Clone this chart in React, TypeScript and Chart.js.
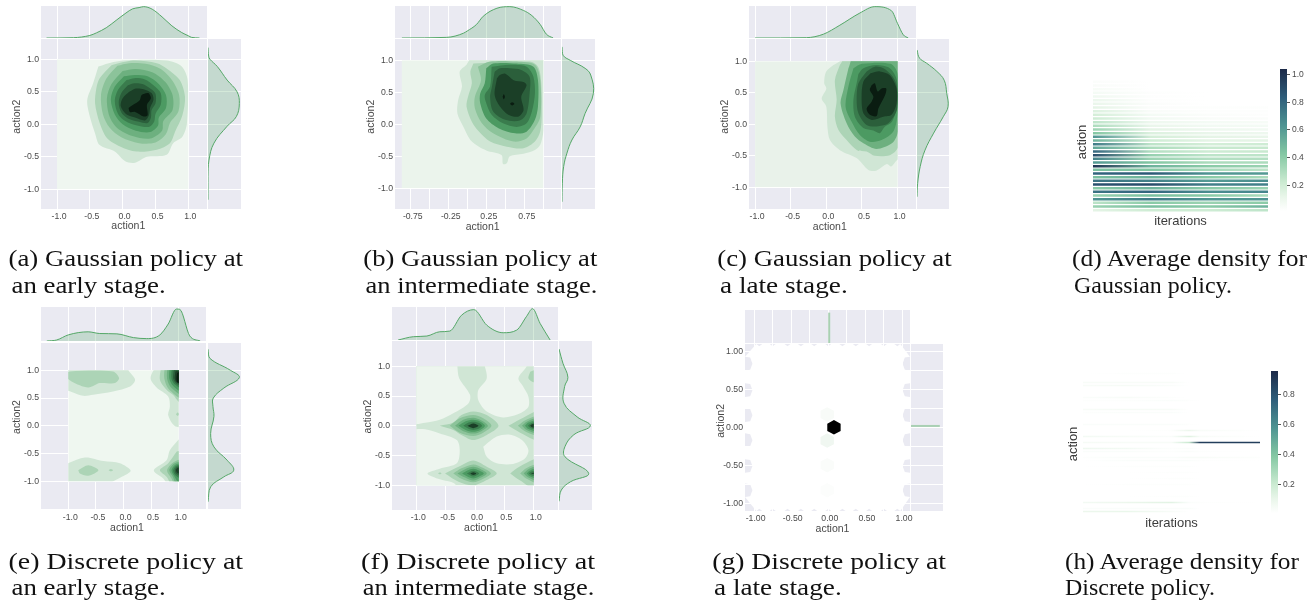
import React, { useEffect, useRef } from "react";
import { Chart, registerables } from "chart.js";

Chart.register(...registerables);

const FONT = "'Liberation Sans', Arial, sans-serif";
const BG = "#EAEAF2";
const LEVEL_COLORS = ["#D0E6D5", "#ACD4B6", "#8CC39A", "#6DB07F", "#4C9A62", "#3A7C4D", "#2B5F3B", "#1B3F27", "#0A1C11"];

// ---------- contour rings: flat x,y lists ----------
const a1 = [-0.37,0.89,-0.45,0.63,-0.54,0.37,-0.50,0.12,-0.42,-0.14,-0.35,-0.32,-0.12,-0.42,0.04,-0.57,0.19,-0.59,0.37,-0.50,0.67,-0.47,0.77,-0.29,0.91,-0.19,0.98,0.02,0.99,0.68,0.90,0.89,0.67,0.98,0.16,0.99,-0.14,0.96];
const a2 = [-0.17,0.91,-0.35,0.71,-0.40,0.56,-0.42,0.32,-0.35,0.02,-0.24,-0.21,-0.04,-0.34,0.21,-0.42,0.52,-0.39,0.72,-0.29,0.80,-0.11,0.91,0.14,0.95,0.42,0.87,0.68,0.67,0.86,0.52,0.94,0.16,0.98];
const a3 = [-0.08,0.90,-0.25,0.70,-0.33,0.45,-0.30,0.15,-0.20,-0.05,-0.02,-0.20,0.25,-0.29,0.50,-0.28,0.66,-0.15,0.72,0.02,0.85,0.20,0.86,0.45,0.75,0.68,0.58,0.85,0.35,0.93,0.10,0.94];
const a4 = [0.0,0.82,-0.17,0.62,-0.24,0.40,-0.20,0.12,-0.08,-0.06,0.15,-0.18,0.42,-0.22,0.60,-0.10,0.62,0.05,0.76,0.22,0.76,0.45,0.65,0.65,0.45,0.80,0.2,0.85];
const a5 = [0.02,0.74,-0.12,0.58,-0.18,0.38,-0.12,0.15,0.0,0.0,0.2,-0.1,0.42,-0.12,0.54,-0.02,0.55,0.1,0.66,0.25,0.66,0.45,0.55,0.62,0.38,0.74,0.18,0.76];
const a6 = [0.06,0.68,-0.07,0.53,-0.12,0.36,-0.07,0.16,0.04,0.05,0.22,-0.02,0.40,-0.04,0.48,0.04,0.50,0.16,0.58,0.30,0.58,0.48,0.47,0.60,0.34,0.69,0.18,0.71];
const a7 = [0.08,0.6,-0.02,0.48,-0.06,0.33,-0.02,0.18,0.08,0.09,0.25,0.04,0.38,0.02,0.43,0.10,0.44,0.22,0.50,0.32,0.50,0.47,0.42,0.55,0.30,0.62,0.18,0.63];
const a8 = [0.10,0.50,0.0,0.40,-0.03,0.28,0.05,0.16,0.2,0.1,0.34,0.06,0.4,0.14,0.42,0.26,0.47,0.38,0.44,0.48,0.32,0.54,0.2,0.55];
const a9 = [0.09,0.25,0.16,0.30,0.26,0.37,0.29,0.45,0.39,0.48,0.43,0.40,0.37,0.30,0.38,0.14,0.32,0.12,0.19,0.19,0.11,0.19];
const contourA = [[0,a1],[1,a2],[2,a3],[3,a4],[4,a5],[5,a6],[6,a7],[7,a8],[8,a9]];

const b1 = [-0.01,0.93,-0.10,0.82,-0.07,0.59,-0.12,0.38,-0.13,0.17,-0.05,-0.04,0.06,-0.27,0.25,-0.41,0.45,-0.48,0.47,-0.62,0.52,-0.61,0.56,-0.50,0.74,-0.46,0.89,-0.40,0.96,-0.32,1.0,-0.14,1.1,0.4,1.1,1.1,0.1,1.1];
const b2 = [0.08,0.95,0.04,0.82,0.06,0.64,0.01,0.43,-0.01,0.28,0.06,0.04,0.15,-0.11,0.30,-0.27,0.52,-0.35,0.74,-0.375,0.89,-0.27,0.96,-0.11,0.98,0.17,0.97,0.69,0.93,0.90,0.82,0.98];
const b3 = [0.14,0.90,0.18,0.69,0.10,0.43,0.10,0.25,0.19,0.02,0.34,-0.14,0.61,-0.27,0.78,-0.22,0.87,-0.09,0.96,0.12,0.96,0.69,0.89,0.93,0.65,0.98,0.30,0.98];
const b4 = [0.25,0.875,0.23,0.64,0.17,0.48,0.17,0.33,0.25,0.09,0.41,-0.06,0.63,-0.14,0.78,-0.115,0.89,0.07,0.93,0.28,0.93,0.69,0.87,0.90,0.65,0.95,0.34,0.95];
const b5 = [0.32,0.90,0.30,0.59,0.23,0.46,0.25,0.33,0.32,0.15,0.47,0.016,0.65,-0.04,0.78,0.016,0.85,0.20,0.89,0.48,0.87,0.745,0.78,0.90,0.56,0.93];
const b6 = [0.36,0.82,0.32,0.56,0.30,0.43,0.34,0.20,0.50,0.07,0.69,0.06,0.78,0.17,0.82,0.48,0.82,0.745,0.71,0.85,0.56,0.875,0.43,0.875];
const b7 = [0.39,0.72,0.36,0.46,0.43,0.28,0.54,0.15,0.67,0.12,0.74,0.22,0.71,0.43,0.78,0.61,0.74,0.66,0.61,0.69,0.50,0.79,0.43,0.77];
const b8 = [0.465,0.43,0.48,0.47,0.495,0.43,0.48,0.39];
const b9 = [0.56,0.32,0.59,0.345,0.62,0.32,0.59,0.295];
const contourB = [[0,b1],[1,b2],[2,b3],[4,b4],[5,b5],[6,b6],[7,b7],[8,b8],[8,b9]];

const c1 = [0.10,0.94,-0.005,0.83,-0.03,0.65,0,0.57,-0.065,0.41,0,0.28,0.015,-0.04,0.05,-0.25,0.19,-0.41,0.43,-0.54,0.59,-0.725,0.70,-0.735,0.85,-0.63,0.91,-0.67,0.99,-0.57,1.1,-0.5,1.1,1.1,0.3,1.1,0.19,1.0];
const c2 = [0.19,0.94,0.12,0.70,0.145,0.39,0.12,0.12,0.17,-0.09,0.285,-0.25,0.43,-0.41,0.565,-0.43,0.68,-0.50,0.89,-0.49,1.0,-0.38,1.1,0,1.1,1.1,0.3,1.1];
const c3 = [0.31,0.89,0.24,0.545,0.20,0.33,0.285,0.016,0.40,-0.195,0.52,-0.30,0.705,-0.39,0.92,-0.30,1.0,-0.14,1.1,0.5,1.1,1.1,0.4,1.1];
const c4 = [0.38,0.89,0.31,0.60,0.27,0.28,0.355,0.04,0.47,-0.17,0.61,-0.275,0.775,-0.25,0.94,-0.115,1.0,0.175,1.0,0.8,0.9,0.96,0.5,0.96];
const c5 = [0.45,0.80,0.425,0.65,0.38,0.39,0.40,0.12,0.52,-0.06,0.66,-0.10,0.75,-0.14,0.82,-0.04,0.92,0.04,0.99,0.28,0.99,0.70,0.89,0.89,0.70,0.94,0.52,0.89];
const c6 = [0.565,0.84,0.45,0.65,0.425,0.39,0.45,0.175,0.565,-0.01,0.73,-0.03,0.87,0.016,0.99,0.23,0.99,0.60,0.93,0.76,0.80,0.89,0.68,0.915];
const c7 = [0.62,0.81,0.52,0.68,0.495,0.44,0.52,0.175,0.635,0.07,0.80,0.12,0.915,0.15,0.985,0.33,0.985,0.57,0.89,0.78,0.75,0.84];
const c8 = [0.635,0.62,0.68,0.65,0.72,0.52,0.775,0.57,0.84,0.57,0.825,0.465,0.73,0.25,0.705,0.13,0.61,0.15,0.565,0.25,0.635,0.36,0.66,0.44,0.61,0.545];
const contourC = [[0,c1],[1,c2],[3,c3],[4,c4],[5,c5],[6,c6],[7,c7],[8,c8]];

const e1a = [-1.1,1.1,0.09,1.1,0.09,1.0,0.21,0.83,0.12,0.71,-0.19,0.62,-0.55,0.56,-0.73,0.54,-0.94,0.61,-1.1,0.69];
const e1b = [0.60,1.1,0.49,0.86,0.60,0.69,0.81,0.53,0.84,0.35,0.81,0.19,0.93,-0.003,1.1,0,1.1,1.1];
const e1c = [1.0,-0.245,0.84,-0.44,0.78,-0.62,0.55,-0.80,0.72,-0.95,0.84,-1.1,1.1,-1.1,1.1,-0.245];
const e1d = [-1.1,-0.71,-0.70,-0.57,-0.365,-0.635,-0.065,-0.675,0.13,-0.81,-0.03,-0.92,-0.43,-1.1,-0.91,-1.1,-1.1,-0.98];
const e2a = [-1.1,0.92,-0.94,0.80,-0.64,0.69,-0.43,0.77,-0.155,0.77,-0.08,0.86,-0.19,0.98,-0.97,0.98];
const e2b = [-0.82,-0.80,-0.64,-0.71,-0.455,-0.80,-0.64,-0.90,-0.79,-0.86];
const e2c = [-0.27,-0.80,-0.23,-0.78,-0.19,-0.80,-0.23,-0.82];
const e2d = [0.69,1.1,0.66,0.83,0.78,0.65,0.90,0.555,1.0,0.435,1.1,0.4,1.1,1.1];
const e2e = [0.965,-0.465,0.81,-0.675,0.66,-0.80,0.78,-0.92,0.90,-1.1,1.1,-1.1,1.1,-0.45];
const e2f = [0.95,0.21,0.98,0.24,1.01,0.21,0.98,0.18];
const e3t = [0.75,1.1,0.74,0.85,0.83,0.65,1.1,0.48,1.1,1.1];
const e4t = [0.80,1.1,0.79,0.85,0.87,0.68,1.1,0.55,1.1,1.1];
const e5t = [0.84,1.1,0.83,0.85,0.91,0.71,1.1,0.60,1.1,1.1];
const e6t = [0.88,1.1,0.87,0.85,0.94,0.74,1.1,0.66,1.1,1.1];
const e7t = [0.91,1.0,0.90,0.85,0.96,0.76,1.1,0.70,1.1,1.1];
const e8t = [0.94,0.98,0.93,0.85,0.97,0.78,1.1,0.74,1.1,1.0];
const e9t = [0.97,0.95,0.96,0.85,0.98,0.78,1.1,0.76,1.1,1.0];
const e3b = [1.1,-0.58,0.90,-0.66,0.79,-0.80,0.87,-0.95,0.95,-1.1,1.1,-1.1];
const e4b = [1.1,-0.62,0.92,-0.68,0.83,-0.80,0.90,-0.93,0.97,-1.1,1.1,-1.1];
const e5b = [1.1,-0.66,0.94,-0.70,0.87,-0.80,0.92,-0.91,0.98,-1.0,1.1,-1.1];
const e6b = [1.1,-0.69,0.96,-0.72,0.90,-0.80,0.94,-0.89,1.1,-0.97];
const e7b = [1.1,-0.71,0.97,-0.74,0.93,-0.80,0.96,-0.87,1.1,-0.93];
const e8b = [1.1,-0.73,0.98,-0.76,0.95,-0.80,0.98,-0.85,1.1,-0.89];
const contourE = [[0,e1a],[0,e1b],[0,e1c],[0,e1d],[1,e2a],[1,e2b],[1,e2c],[1,e2d],[1,e2e],[1,e2f],[2,e3t],[3,e4t],[4,e5t],[5,e6t],[6,e7t],[7,e8t],[8,e9t],[2,e3b],[3,e4b],[4,e5b],[5,e6b],[6,e7b],[7,e8b]];

// level -1 means "back to the outermost colour": the empty pockets of panel f
const f0 = [-1.1,-1.1,1.1,-1.1,1.1,1.1,-1.1,1.1];
const fHoleA = [-1.1,1.1,-0.30,1.1,-0.30,1.0,-0.27,0.80,-0.085,0.52,-0.11,0.38,-0.37,0.21,-0.60,0.10,-0.85,0.053,-1.1,0.055];
const fHoleB = [0.14,1.1,0.20,0.80,0.057,0.60,0.057,0.43,0.20,0.24,0.48,0.14,0.77,0.21,0.91,0.32,0.91,0.49,0.82,0.66,0.74,0.80,0.88,1.0,0.88,1.1];
const fHoleC = [-1.1,-0.06,-0.85,-0.06,-0.60,-0.13,-0.31,-0.24,-0.26,-0.41,-0.31,-0.63,-0.60,-0.72,-0.81,-0.80,-0.60,-0.90,-0.35,-0.97,-0.30,-1.1,-1.1,-1.1];
const fHoleD = [0.14,-0.35,0.37,-0.18,0.60,-0.15,0.80,-0.24,0.91,-0.41,0.85,-0.55,0.65,-0.64,0.37,-0.63,0.20,-0.52];
const fBlob = [0.94,0.91,0.91,0.80,1.0,0.73,1.1,0.73,1.1,0.95];
const fDot = [-0.63,-0.80,-0.60,-0.785,-0.57,-0.80,-0.60,-0.815];
const fMid2 = [-0.60,0,-0.37,0.055,-0.23,0.18,-0.03,0.24,0.2,0.18,0.40,0,0.2,-0.155,-0.03,-0.24,-0.23,-0.155,-0.37,-0.07];
const fMid3 = [-0.43,0,-0.26,0.125,-0.03,0.18,0.14,0.125,0.28,0,0.14,-0.115,-0.03,-0.17,-0.26,-0.115];
const fMid4 = [-0.34,0,-0.2,0.10,-0.03,0.135,0.11,0.09,0.22,0,0.11,-0.09,-0.03,-0.13,-0.2,-0.09];
const fMid5 = [-0.28,0,-0.16,0.075,-0.03,0.10,0.09,0.07,0.17,0,0.09,-0.07,-0.03,-0.10,-0.16,-0.07];
const fMid6 = [-0.2,0,-0.11,0.055,-0.03,0.07,0.06,0.05,0.12,0,0.06,-0.05,-0.03,-0.07,-0.11,-0.05];
const fMid7 = [-0.13,0,-0.03,0.04,0.06,0,-0.03,-0.04];
const fRight2 = [0.57,0,0.77,0.11,1.1,0.24,1.1,-0.24,0.77,-0.115];
const fRight3 = [0.73,0,0.85,0.09,1.1,0.16,1.1,-0.16,0.85,-0.09];
const fRight4 = [0.80,0,0.88,0.07,1.1,0.13,1.1,-0.13,0.88,-0.07];
const fRight5 = [0.85,0,0.91,0.055,1.1,0.10,1.1,-0.10,0.91,-0.055];
const fRight6 = [0.90,0,0.95,0.04,1.1,0.07,1.1,-0.07,0.95,-0.04];
const fRight7 = [0.94,0,0.97,0.025,1.1,0.04,1.1,-0.04,0.97,-0.025];
const fLow2 = [-0.51,-0.80,-0.28,-0.69,-0.03,-0.585,0.2,-0.69,0.37,-0.80,0.2,-0.91,-0.03,-1.0,-0.28,-0.94];
const fLow3 = [-0.37,-0.80,-0.23,-0.715,-0.03,-0.65,0.14,-0.71,0.27,-0.80,0.14,-0.89,-0.03,-0.95,-0.23,-0.89];
const fLow4 = [-0.3,-0.80,-0.17,-0.73,-0.03,-0.69,0.1,-0.73,0.2,-0.80,0.1,-0.87,-0.03,-0.92,-0.17,-0.87];
const fLow5 = [-0.22,-0.8,-0.13,-0.75,-0.03,-0.72,0.07,-0.75,0.15,-0.8,0.07,-0.85,-0.03,-0.885,-0.13,-0.85];
const fLow6 = [-0.14,-0.8,-0.03,-0.755,0.07,-0.8,-0.03,-0.85];
const fLow7 = [-0.08,-0.8,-0.03,-0.78,0.02,-0.8,-0.03,-0.825];
const fCorner2 = [0.60,-0.8,0.77,-0.68,1.1,-0.56,1.1,-1.1,0.77,-0.92];
const fCorner3 = [0.77,-0.8,0.88,-0.71,1.1,-0.65,1.1,-0.97,0.88,-0.89];
const fCorner4 = [0.83,-0.8,0.91,-0.73,1.1,-0.68,1.1,-0.93,0.91,-0.87];
const fCorner5 = [0.88,-0.8,0.94,-0.75,1.1,-0.71,1.1,-0.89,0.94,-0.85];
const fCorner6 = [0.92,-0.8,0.96,-0.77,1.1,-0.74,1.1,-0.86,0.96,-0.83];
const fCorner7 = [0.95,-0.8,1.1,-0.77,1.1,-0.83];
const contourF = [[0,f0,0],[-1,fHoleA],[-1,fHoleB],[-1,fHoleC],[-1,fHoleD],[1,fBlob],[1,fDot],[1,fMid2],[2,fMid3],[3,fMid4],[4,fMid5],[5,fMid6],[7,fMid7],[1,fRight2],[2,fRight3],[3,fRight4],[4,fRight5],[5,fRight6],[7,fRight7],[1,fLow2],[2,fLow3],[3,fLow4],[4,fLow5],[5,fLow6],[7,fLow7],[1,fCorner2],[2,fCorner3],[3,fCorner4],[4,fCorner5],[5,fCorner6],[7,fCorner7]];

// ---------- marginal densities: position, height pairs ----------
const topA = [[-1.16,0],[-0.75,0.01],[-0.5,0.08],[-0.4,0.16],[-0.25,0.32],[-0.1,0.55],[0.05,0.78],[0.15,0.91],[0.25,0.95],[0.32,0.98],[0.45,0.90],[0.6,0.66],[0.75,0.38],[0.9,0.17],[1.0,0.07],[1.05,0.02],[1.17,0]];
const sideA = [[1.18,0],[1.05,0.02],[1.0,0.06],[0.89,0.28],[0.68,0.58],[0.5,0.88],[0.32,0.95],[0.12,0.86],[-0.03,0.58],[-0.29,0.18],[-0.55,0.03],[-0.8,0],[-1.16,0]];
const topB = [[-0.86,0],[-0.27,0.02],[-0.05,0.15],[0.0,0.22],[0.12,0.42],[0.21,0.68],[0.39,0.93],[0.56,0.98],[0.74,0.86],[0.85,0.7],[0.96,0.42],[1.04,0.12],[1.13,0]];
const sideB = [[1.21,0],[1.08,0.03],[1.0,0.25],[0.875,0.70],[0.77,0.87],[0.48,0.95],[0.17,0.70],[-0.04,0.55],[-0.245,0.30],[-0.45,0.15],[-0.66,0.05],[-0.92,0.01],[-1.21,0]];
const topC = [[-1,0],[-0.28,0.01],[-0.04,0.12],[0.19,0.40],[0.47,0.78],[0.68,0.98],[0.915,0.85],[1.0,0.45],[1.08,0.1],[1.15,0]];
const sideC = [[1.18,0],[1.05,0.08],[0.97,0.30],[0.84,0.62],[0.70,0.85],[0.49,0.93],[0.28,0.97],[0.12,0.82],[-0.14,0.52],[-0.41,0.25],[-0.67,0.10],[-0.94,0.02],[-1.15,0]];
const topE = [[-1.39,0],[-1.21,0.03],[-1.0,0.18],[-0.64,0.27],[-0.43,0.22],[-0.12,0.21],[0.18,0.10],[0.42,0.07],[0.66,0.18],[0.81,0.50],[0.96,0.94],[1.02,0.93],[1.2,0.15],[1.39,0]];
const sideE = [[1.38,0],[1.22,0.05],[1.0,0.68],[0.87,0.95],[0.68,0.48],[0.50,0.16],[0.35,0.15],[0.17,0.18],[-0.14,0.08],[-0.38,0.18],[-0.62,0.58],[-0.80,0.78],[-0.92,0.48],[-1.10,0.08],[-1.37,0]];
const topF = [[-1.31,0],[-1.05,0.1],[-0.82,0.12],[-0.6,0.25],[-0.43,0.27],[-0.23,0.75],[-0.02,0.92],[0.2,0.45],[0.48,0.22],[0.71,0.3],[0.88,0.72],[0.98,0.95],[1.11,0.5],[1.28,0]];
const sideF = [[1.29,0],[1.05,0.12],[0.815,0.27],[0.66,0.17],[0.38,0.15],[0.15,0.55],[0,0.95],[-0.15,0.45],[-0.35,0.18],[-0.52,0.18],[-0.80,0.9],[-0.94,0.35],[-1.08,0.07],[-1.27,0]];
const topG = [[0.012,0],[0.012,0.92]];
const sideG = [[0.018,0],[0.018,0.9]];

// ---------- hexbin of panel g ----------
const hexX = [-0.015, -0.015, -0.015, -0.015, 0.076];
const hexY = [0.17, -0.175, -0.50, -0.83, 0];
const hexShade = ["#F8FBF8", "#F0F7F1", "#FAFCFA", "#FCFDFC", "#000000"];
const notchY = [0.84, 0.49, 0.16, -0.17, -0.51, -0.83];
const notchX = [-0.93, -0.75, -0.55, -0.37, -0.19, 0, 0.19, 0.37, 0.55, 0.75, 0.93];

// ---------- average-density heatmaps ----------
const heatStopsD = [0, 0.33, 0.66, 1];
const heatD = [
  [.02,0,0,0],[.03,0,0,0],[.04,0,0,0],[.05,.01,0,0],[.07,.01,0,0],[.09,.01,0,0],[.1,.02,0,0],[.12,.02,.01,.01],
  [.15,.03,.01,.01],[.18,.05,.02,.01],[.2,.06,.03,.02],[.25,.08,.05,.04],[.3,.1,.06,.05],[.35,.12,.08,.06],[.42,.15,.1,.08],[.62,.18,.12,.1],
  [.5,.2,.12,.12],[.72,.25,.18,.2],[.55,.3,.22,.22],[.8,.28,.2,.22],[.9,.36,.25,.25],[.7,.35,.28,.28],[.6,.42,.3,.3],
  [1,.5,.4,.35],[.45,.42,.32,.25],[.8,.85,.62,.6],[.45,.5,.4,.3],[.75,.7,.6,.65],[.88,.9,.7,.7],[.4,.5,.4,.35],[.75,.8,.65,.68],
  [.35,.45,.4,.3],[.62,.72,.62,.62],[.25,.4,.35,.4],[.35,.45,.4,.5],[.12,.2,.2,.25],
];
const heatStopsH = [0, 0.25, 0.5, 0.6, 0.66, 1];
const heatRowsH = [0,3,4,8,9,12,13,17,19,21,23,25,26,28,29,31,33,35,37,41,43,45,46];
const heatH = [
  [0,.01,.01,0,0,0],[.03,.03,.03,0,0,0],[.03,.04,.02,0,0,0],[.02,.03,.01,0,0,0],[.01,.01,.02,.01,0,0],[.03,.04,.03,0,0,0],[.01,.02,.02,0,0,0],[.02,.02,.02,.01,0,0],
  [0,0,.01,.08,.03,0],[.05,.03,.02,.13,.03,0],[.04,.03,.03,.2,.88,.88],[.07,.05,.01,.02,0,0],[.02,.02,.01,.02,.01,0],[.01,.02,.02,.03,.03,.01],[0,.02,.02,.02,.01,0],[0,.01,.01,.01,0,0],
  [0,0,.01,.01,0,0],[0,0,.01,.01,0,0],[0,.01,.01,.01,0,0],[0,0,.01,.01,0,0],[.05,.08,.12,.02,.01,0],[.02,.02,.02,.02,0,0],[.08,.09,.03,0,0,0],
];
const colorbarTicks = [0.2, 0.4, 0.6, 0.8, 1.0];
const cmapPos = [0, 0.1, 0.2, 0.4, 0.6, 0.8, 1];
const cmapCol = [[255,255,255],[233,246,234],[204,235,210],[132,200,163],[78,148,146],[46,93,122],[28,42,72]];

function cmap(t: number) {
  const v = Math.max(0, Math.min(1, t));
  let i = 0;
  while (i < cmapPos.length - 2 && v > cmapPos[i + 1]) i++;
  const f = (v - cmapPos[i]) / (cmapPos[i + 1] - cmapPos[i]);
  const c = cmapCol[i].map((a, k) => Math.round(a + (cmapCol[i + 1][k] - a) * f));
  return `rgb(${c[0]},${c[1]},${c[2]})`;
}

// ---------- captions ----------
const captions: [string, number, number, number][] = [
  ["(a) Gaussian policy at", 8.5, 243, 266], ["an early stage.", 11.5, 165.7, 293],
  ["(b) Gaussian policy at", 363.3, 597.3, 266], ["an intermediate stage.", 365.5, 597.3, 293],
  ["(c) Gaussian policy at", 717.3, 951.7, 266], ["a late stage.", 720, 847.7, 293],
  ["(d) Average density for", 1072, 1307, 266], ["Gaussian policy.", 1074, 1232, 293],
  ["(e) Discrete policy at", 8.5, 243, 568.5], ["an early stage.", 11.5, 165.7, 595],
  ["(f) Discrete policy at", 361, 595, 568.5], ["an intermediate stage.", 362.7, 594.3, 595],
  ["(g) Discrete policy at", 712.3, 946, 568.5], ["a late stage.", 714, 841.7, 595],
  ["(h) Average density for", 1065, 1299, 568.5], ["Discrete policy.", 1065, 1215, 595],
];

// ---------- helpers ----------
const toXY = (flat: number[]) => {
  const out: { x: number; y: number }[] = [];
  for (let i = 0; i < flat.length; i += 2) out.push({ x: flat[i], y: flat[i + 1] });
  out.push({ x: flat[0], y: flat[1] });
  return out;
};

function fixBox(size: number, shift = 0) {
  return (scale: any) => {
    if (scale.isHorizontal()) scale.height = size; else scale.width = size;
    scale.paddingTop = 0; scale.paddingBottom = 0; scale.paddingLeft = 0; scale.paddingRight = 0;
    if (shift && !scale.__shifted) {
      scale.__shifted = true;
      const orig = scale.drawTitle;
      scale.drawTitle = function () {
        const s = this, l = s.left, r = s.right, t = s.top, b = s.bottom;
        if (s.isHorizontal()) { s.left += shift; s.right += shift; } else { s.top += shift; s.bottom += shift; }
        orig.call(s);
        s.left = l; s.right = r; s.top = t; s.bottom = b;
      };
    }
  };
}

const bgPlugin = {
  id: "panelBg",
  beforeDraw(c: any) {
    const a = c.chartArea;
    c.ctx.save();
    c.ctx.fillStyle = BG;
    c.ctx.fillRect(a.left, a.top, a.right - a.left, a.bottom - a.top);
    c.ctx.restore();
  },
};

function squareClip(b: number[]) {
  return {
    id: "squareClip",
    beforeDatasetsDraw(c: any) {
      const x = c.scales.x, y = c.scales.y;
      const ctx = c.ctx;
      ctx.save();
      ctx.beginPath();
      const x0 = x.getPixelForValue(b[0]), x1 = x.getPixelForValue(1), y0 = y.getPixelForValue(1), y1 = y.getPixelForValue(-1);
      ctx.rect(x0, y0, x1 - x0, y1 - y0);
      ctx.clip();
    },
    afterDatasetsDraw(c: any) { c.ctx.restore(); },
  };
}

const baseOpts = {
  responsive: false,
  animation: false,
  devicePixelRatio: 1,
  events: [],
  layout: { autoPadding: false, padding: 0 },
  plugins: { legend: { display: false }, tooltip: { enabled: false } },
};

const poly = (flat: number[], color: string, tension = 0.3) => ({
  data: toXY(flat), showLine: true, fill: "shape", backgroundColor: color, borderWidth: 0, pointRadius: 0, tension,
});

type Panel = {
  l: number; r: number; t: number; b: number; side: number; upper: number;
  xr: number[]; yr: number[]; xStep: number; yStep: number; xDigits: number;
  xLabels: number[]; yLabels: number[]; labelOffset: number;
  xShift: number; yShift: number; xTitlePad: number;
};

const allow = (list: number[], digits: number) => (v: any) =>
  list.some((k) => Math.abs(k - Number(v)) < 1e-6) ? Number(v).toFixed(digits) : "";

const oneDec = [-1, -0.5, 0, 0.5, 1];
const panelA: Panel = { l: 41, r: 207, t: 39, b: 209, side: 241, upper: 6, xr: [-1.244, 1.285], yr: [-1.303, 1.312], xStep: 0.5, yStep: 0.5, xDigits: 1, xLabels: oneDec, yLabels: oneDec, labelOffset: 2, xShift: 4.3, yShift: -7.3, xTitlePad: 0.7 };
const panelB: Panel = { l: 395, r: 561, t: 39, b: 209, side: 595, upper: 6, xr: [-0.951, 1.233], yr: [-1.323, 1.333], xStep: 0.25, yStep: 0.5, xDigits: 2, xLabels: [-0.75, -0.25, 0.25, 0.75], yLabels: oneDec, labelOffset: 2.5, xShift: 4.7, yShift: -7.3, xTitlePad: 0 };
const panelC: Panel = { l: 749, r: 916, t: 39, b: 209, side: 949, upper: 6, xr: [-1.085, 1.258], yr: [-1.344, 1.354], xStep: 0.5, yStep: 0.5, xDigits: 1, xLabels: oneDec, yLabels: oneDec, labelOffset: 2, xShift: -2.7, yShift: -7.3, xTitlePad: 0 };
const panelE: Panel = { l: 41, r: 207, t: 342, b: 510, side: 241, upper: 307, xr: [-1.495, 1.513], yr: [-1.517, 1.51], xStep: 0.5, yStep: 0.5, xDigits: 1, xLabels: oneDec, yLabels: oneDec, labelOffset: 2, xShift: 3, yShift: -9, xTitlePad: 0 };
const panelF: Panel = { l: 392, r: 558, t: 341, b: 510, side: 592, upper: 307, xr: [-1.414, 1.414], yr: [-1.415, 1.425], xStep: 0.5, yStep: 0.5, xDigits: 1, xLabels: oneDec, yLabels: oneDec, labelOffset: 2, xShift: 6, yShift: -9, xTitlePad: 0 };
const panelG: Panel = { l: 745, r: 910, t: 344, b: 511, side: 943, upper: 310, xr: [-1.123, 1.101], yr: [-1.104, 1.099], xStep: 0.25, yStep: 0.25, xDigits: 2, xLabels: oneDec, yLabels: oneDec, labelOffset: 1.5, xShift: 5, yShift: -6.6, xTitlePad: 0 };

const AXIS_W = 30, AXIS_H = 24, RIGHT_ROOM = 10;

function linearAxis(min: number, max: number, step: number) {
  return {
    type: "linear", min, max,
    grid: { color: "#FFFFFF", lineWidth: 1, drawTicks: false },
    border: { display: false },
    ticks: { stepSize: step, includeBounds: false, autoSkip: false, maxRotation: 0, color: "#4A4A4A", font: { family: FONT, size: 8.7 }, padding: 2 },
  };
}

function mainConfig(p: Panel, datasets: any[], plugins: any[]) {
  const yDigits = p.yStep === 0.25 ? 2 : 1;
  const x: any = linearAxis(p.xr[0], p.xr[1], p.xStep);
  x.ticks.callback = allow(p.xLabels, p.xDigits);
  x.ticks.labelOffset = p.labelOffset;
  x.title = { display: true, text: "action1", color: "#4A4A4A", font: { family: FONT, size: 10.5 }, padding: { top: 0, bottom: p.xTitlePad } };
  x.afterFit = fixBox(AXIS_H, p.xShift);
  const y: any = linearAxis(p.yr[0], p.yr[1], p.yStep);
  y.ticks.callback = allow(p.yLabels, yDigits);
  y.title = { display: true, text: "action2", color: "#4A4A4A", font: { family: FONT, size: 10.5 }, padding: 0 };
  y.afterFit = fixBox(AXIS_W, p.yShift);
  const options = { ...baseOpts, layout: { autoPadding: false, padding: { right: RIGHT_ROOM } }, scales: { x, y } };
  return { type: "scatter", data: { datasets: [...datasets].reverse() }, options, plugins: [bgPlugin, ...plugins] };
}

function marginalTop(p: Panel, pts: number[][], thin = false) {
  const x: any = linearAxis(p.xr[0], p.xr[1], p.xStep);
  x.ticks.display = false;
  x.afterFit = fixBox(0);
  return {
    type: "line",
    data: { datasets: [{ data: pts.map((q) => ({ x: q[0], y: q[1] })), borderColor: thin ? "#A9D0B3" : "#55A868", borderWidth: thin ? 2 : 1, backgroundColor: "rgba(85,168,104,0.25)", fill: thin ? false : "origin", pointRadius: 0, cubicInterpolationMode: "monotone" }] },
    options: { ...baseOpts, scales: { x, y: { type: "linear", min: 0, max: 1, display: false } } },
    plugins: [bgPlugin],
  };
}

function marginalSide(p: Panel, pts: number[][], thin = false) {
  const y: any = linearAxis(p.yr[0], p.yr[1], p.yStep);
  y.ticks.display = false;
  y.afterFit = fixBox(0);
  return {
    type: "line",
    data: { datasets: [{ data: pts.map((q) => ({ x: q[1], y: q[0] })), borderColor: thin ? "#A9D0B3" : "#55A868", borderWidth: thin ? 2 : 1, backgroundColor: "rgba(85,168,104,0.25)", fill: thin ? false : "origin", pointRadius: 0, tension: 0.4 }] },
    options: { ...baseOpts, indexAxis: "y", scales: { y, x: { type: "linear", min: 0, max: 1, display: false } } },
    plugins: [bgPlugin],
  };
}

function heatConfig(rows: number[][], stops: number[], vmax: number, w: number, h: number, yShift: number, bar: number) {
  const grad = (c: any) => {
    const chart = c.chart;
    const a = chart.chartArea;
    const row = rows[c.dataIndex];
    if (!a || !row) return "transparent";
    const g = chart.ctx.createLinearGradient(a.left, 0, a.right, 0);
    row.forEach((v, i) => g.addColorStop(stops[i], cmap(v / vmax)));
    return g;
  };
  return {
    type: "bar",
    data: { labels: rows.map((_, i) => String(i)), datasets: [{ data: rows.map(() => 1), backgroundColor: grad, barPercentage: bar, categoryPercentage: 1 }] },
    options: {
      ...baseOpts,
      indexAxis: "y",
      scales: {
        x: { type: "linear", min: 0, max: 1, ticks: { display: false }, grid: { display: false }, border: { display: false }, title: { display: true, text: "iterations", color: "#3C3C3C", font: { family: FONT, size: 13 }, padding: 0 }, afterFit: fixBox(h) },
        y: { type: "category", ticks: { display: false }, grid: { display: false }, border: { display: false }, title: { display: true, text: "action", color: "#3C3C3C", font: { family: FONT, size: 13 }, padding: 0 }, afterFit: fixBox(w, yShift) },
      },
    },
  };
}

function colorbarConfig(lo: number, hi: number, ticks: number[]) {
  const grad = (c: any) => {
    const chart = c.chart;
    const a = chart.chartArea;
    if (!a) return "transparent";
    const g = chart.ctx.createLinearGradient(0, a.bottom, 0, a.top);
    for (const p of cmapPos) g.addColorStop(p, cmap(p));
    return g;
  };
  return {
    type: "bar",
    data: { labels: ["density"], datasets: [{ data: [[lo, hi]], backgroundColor: grad, barPercentage: 1, categoryPercentage: 1 }] },
    options: {
      ...baseOpts,
      scales: {
        x: { display: false, afterFit: fixBox(0) },
        y: {
          type: "linear", position: "right", min: lo, max: hi, afterFit: fixBox(26),
          grid: { drawOnChartArea: false, drawTicks: true, tickLength: 3, color: "#555555" },
          border: { display: false },
          ticks: { stepSize: 0.2, includeBounds: false, color: "#4A4A4A", padding: 2, font: { family: FONT, size: 8.5 }, callback: (v: any) => ticks.some((k) => Math.abs(k - Number(v)) < 1e-6) ? Number(v).toFixed(1) : "" },
        },
      },
    },
  };
}

function contourSets(groups: any[], square: string, sq: number[]) {
  const base = { data: toXY([sq[0], -1, 1.2, -1, 1.2, 1, sq[0], 1]), showLine: true, fill: "shape", backgroundColor: square, borderWidth: 0, pointRadius: 0, tension: 0 };
  return [base, ...groups.map((g) => poly(g[1], g[0] < 0 ? square : LEVEL_COLORS[g[0]], g[2] === 0 ? 0 : 0.3))];
}

function hexOutline(p: Panel) {
  const [x0, x1] = p.xr, [y0, y1] = p.yr;
  const out: number[] = [];
  for (const c of notchX) out.push(c - 0.04, y1, c, y1 - 0.03, c + 0.04, y1);
  for (const c of notchY) out.push(x1, c + 0.09, x1 - 0.07, c + 0.08, x1 - 0.1, c, x1 - 0.07, c - 0.08, x1, c - 0.09);
  for (const c of [...notchX].reverse()) out.push(c + 0.04, y0, c, y0 + 0.03, c - 0.04, y0);
  for (const c of [...notchY].reverse()) out.push(x0, c - 0.09, x0 + 0.07, c - 0.08, x0 + 0.1, c, x0 + 0.07, c + 0.08, x0, c + 0.09);
  return out;
}

function hexCell(cx: number, cy: number) {
  const w = 0.09, r = 0.095;
  return [cx, cy + r, cx + w, cy + r / 2, cx + w, cy - r / 2, cx, cy - r, cx - w, cy - r / 2, cx - w, cy + r / 2];
}

const gSets = () => [
  poly(hexOutline(panelG), "#FFFFFF", 0),
  ...hexX.map((x, i) => poly(hexCell(x, hexY[i]), hexShade[i], 0)),
];

function ChartCanvas({ left, top, width, height, config, blur = 0.45 }: any) {
  const ref = useRef<HTMLCanvasElement>(null);
  useEffect(() => {
    const chart = new Chart(ref.current as any, config());
    return () => chart.destroy();
  }, []);
  return (
    <canvas
      ref={ref}
      width={width}
      height={height}
      style={{ position: "absolute", left, top, width, height, display: "block", filter: `blur(${blur}px)` }}
    />
  );
}

function Joint({ p, sets, top, side, clip, thin }: any) {
  return (
    <>
      <ChartCanvas left={p.l} top={p.upper} width={p.r - p.l} height={p.t - 1 - p.upper} config={() => marginalTop(p, top, thin)} />
      <ChartCanvas left={p.r + 1} top={p.t} width={p.side - p.r - 1} height={p.b - p.t} config={() => marginalSide(p, side, thin)} />
      <ChartCanvas
        left={p.l - AXIS_W}
        top={p.t}
        width={p.r - p.l + AXIS_W + RIGHT_ROOM}
        height={p.b - p.t + AXIS_H}
        config={() => mainConfig(p, sets(), clip ? [squareClip(clip)] : [])}
      />
    </>
  );
}

export default function App() {
  return (
    <div style={{ position: "absolute", left: 0, top: 0, width: 1315, height: 600, background: "#FFFFFF", overflow: "hidden" }}>
      <Joint p={panelA} top={topA} side={sideA} clip={[-1]} sets={() => contourSets(contourA, "#EFF6F0", [-1])} />
      <Joint p={panelB} top={topB} side={sideB} clip={[-0.864]} sets={() => contourSets(contourB, "#EBF4EC", [-0.864])} />
      <Joint p={panelC} top={topC} side={sideC} clip={[-1]} sets={() => contourSets(contourC, "#E9F2EA", [-1])} />
      <Joint p={panelE} top={topE} side={sideE} clip={[-1]} sets={() => contourSets(contourE, "#EFF7F0", [-1])} />
      <Joint p={panelF} top={topF} side={sideF} clip={[-1]} sets={() => contourSets(contourF, "#EDF5EE", [-1])} />
      <Joint p={panelG} top={topG} side={sideG} thin sets={gSets} />

      <ChartCanvas left={1075} top={80} width={193} height={149} blur={0.6} config={() => heatConfig(heatD, heatStopsD, 1.04, 18, 17, -4, 0.66)} />
      <ChartCanvas left={1280} top={69} width={33} height={142} config={() => colorbarConfig(0.014, 1.04, colorbarTicks)} />
      <ChartCanvas left={1066} top={372} width={194} height={159} blur={0.6} config={() => {
        const rows: number[][] = [];
        for (let i = 0; i < 47; i++) {
          const k = heatRowsH.indexOf(i);
          rows.push(k >= 0 ? heatH[k] : [0, 0, 0, 0, 0, 0]);
        }
        return heatConfig(rows, heatStopsH, 0.955, 17, 18, 1.5, 0.45);
      }} />
      <ChartCanvas left={1271} top={371} width={33} height={142} config={() => colorbarConfig(0.011, 0.955, colorbarTicks)} />

      <svg width={1315} height={600} style={{ position: "absolute", left: 0, top: 0, pointerEvents: "none" }}>
        {captions.map((c, i) => (
          <text key={i} x={c[1]} y={c[3]} textLength={c[2] - c[1]} lengthAdjust="spacingAndGlyphs" fontFamily="'Liberation Serif', serif" fontSize={24} fill="#111111">
            {c[0]}
          </text>
        ))}
      </svg>
    </div>
  );
}
